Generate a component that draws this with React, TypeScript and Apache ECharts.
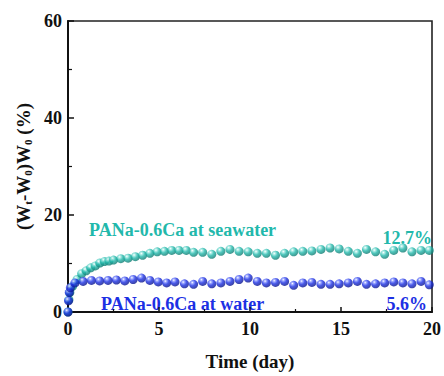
import React, { useEffect, useRef } from "react";
import * as echarts from "echarts";

// Swelling ratio over time for PANa-0.6Ca gel in seawater
const seawaterDays = [
  0, 0.05, 0.1, 0.25, 0.5, 0.75, 1.0, 1.25, 1.5, 1.75, 2.0, 2.25, 2.5,
  2.9, 3.3, 3.7, 4.1, 4.5, 4.9, 5.3, 5.7, 6.1,
  6.5, 6.9, 7.4, 7.9, 8.4, 8.9, 9.4, 9.9, 10.4, 10.9, 11.4, 11.9, 12.4, 12.9,
  13.4, 13.9, 14.4, 14.9, 15.4, 15.9, 16.4, 16.9, 17.4, 17.9, 18.4, 18.9, 19.4, 19.85,
];
const seawaterGain = [
  0, 2.5, 4.0, 5.3, 6.7, 7.9, 8.5, 9.1, 9.5, 10.1, 10.4, 10.5, 10.7,
  11.0, 11.1, 11.4, 11.7, 12.1, 12.4, 12.5, 12.7, 12.7,
  12.7, 12.3, 12.3, 11.9, 12.5, 12.9, 12.5, 12.4, 12.1, 12.1, 11.7, 12.1, 12.4, 12.5,
  12.6, 12.9, 13.2, 13.0, 12.5, 12.1, 12.9, 12.4, 11.9, 12.7, 13.2, 12.4, 12.7, 12.7,
];

// Swelling ratio over time for PANa-0.6Ca gel in water
const waterDays = [
  0, 0.03, 0.07, 0.13, 0.38, 0.83, 1.29, 1.74, 2.2, 2.66, 3.12, 3.58, 4.04, 4.5,
  4.96, 5.42, 5.88, 6.4, 6.9, 7.4, 7.9, 8.4, 8.9, 9.4, 9.9, 10.4, 10.9, 11.4,
  11.9, 12.4, 12.9, 13.4, 13.9, 14.4, 14.9, 15.4, 15.9, 16.4, 16.9, 17.4, 17.9,
  18.4, 18.9, 19.4, 19.85,
];
const waterGain = [
  0, 2.3, 4.0, 5.0, 6.0, 6.3, 6.5, 6.4, 6.5, 6.6, 6.4, 6.7, 7.0, 6.5,
  6.2, 6.0, 6.2, 5.8, 5.7, 6.3, 5.8, 6.0, 6.3, 6.7, 7.0, 6.3, 6.0, 6.1,
  6.3, 5.5, 6.0, 6.1, 5.7, 5.7, 5.8, 6.0, 6.3, 5.7, 5.8, 6.0, 6.2,
  6.0, 5.8, 6.3, 5.6,
];

const seawaterName = "PANa-0.6Ca at seawater";
const waterName = "PANa-0.6Ca at water";

const TEAL = "#22b8ab";
const BLUE = "#1c30e4";
const FONT = "'Liberation Serif', 'Times New Roman', serif";

function sphere(base: string, light: string, dark: string) {
  return new echarts.graphic.RadialGradient(0.36, 0.3, 0.72, [
    { offset: 0, color: "#ffffff" },
    { offset: 0.18, color: light },
    { offset: 0.5, color: base },
    { offset: 1, color: dark },
  ]);
}

function pairs(xs: number[], ys: number[]) {
  return xs.map((x, i) => [x, ys[i]]);
}

export default function App() {
  const ref = useRef<HTMLDivElement>(null);

  useEffect(() => {
    if (!ref.current) return;
    const chart = echarts.init(ref.current, null, { renderer: "svg" });
    const lastSea = seawaterGain[seawaterGain.length - 1];
    const lastWater = waterGain[waterGain.length - 1];

    chart.setOption({
      animation: false,
      backgroundColor: "#ffffff",
      grid: {
        left: 68,
        right: 8,
        top: 21,
        bottom: 58,
        show: true,
        borderColor: "#222",
        borderWidth: 1.6,
        backgroundColor: "transparent",
      },
      xAxis: {
        type: "value",
        min: 0,
        max: 20,
        interval: 5,
        name: "Time (day)",
        nameLocation: "middle",
        nameGap: 40,
        nameTextStyle: { fontFamily: FONT, fontWeight: "bold", fontSize: 19, color: "#111" },
        axisLine: { show: true, lineStyle: { color: "#111", width: 2 } },
        axisTick: { show: true, inside: true, length: 5, lineStyle: { color: "#111", width: 1.5 } },
        minorTick: { show: true, splitNumber: 2, length: 3, lineStyle: { color: "#111", width: 1.2 } },
        splitLine: { show: false },
        axisLabel: { fontFamily: FONT, fontWeight: "bold", fontSize: 18, color: "#111", margin: 8 },
      },
      yAxis: {
        type: "value",
        min: 0,
        max: 60,
        interval: 20,
        name: "(W{s|t}-W{s|0})W{s|0} (%)",
        nameLocation: "middle",
        nameGap: 31,
        nameTextStyle: {
          fontFamily: FONT,
          fontWeight: "bold",
          fontSize: 19,
          color: "#111",
          rich: {
            s: { fontFamily: FONT, fontWeight: "bold", fontSize: 11, color: "#111", padding: [8, 0, 0, 0] },
          },
        },
        axisLine: { show: true, lineStyle: { color: "#111", width: 2 } },
        axisTick: { show: true, inside: true, length: 6, lineStyle: { color: "#111", width: 1.5 } },
        minorTick: { show: true, splitNumber: 2, length: 4, lineStyle: { color: "#111", width: 1.2 } },
        splitLine: { show: false },
        axisLabel: { fontFamily: FONT, fontWeight: "bold", fontSize: 18, color: "#111", margin: 6 },
      },
      series: [
        {
          name: seawaterName,
          type: "scatter",
          symbol: "circle",
          symbolSize: 9,
          data: pairs(seawaterDays, seawaterGain),
          itemStyle: { color: sphere(TEAL, "#9fe8e1", "#0f7a71") },
        },
        {
          name: waterName,
          type: "scatter",
          symbol: "circle",
          symbolSize: 9,
          data: pairs(waterDays, waterGain),
          itemStyle: { color: sphere(BLUE, "#8d9bff", "#0a148a") },
        },
      ],
      graphic: [
        {
          type: "text",
          left: 89,
          top: 221,
          style: { text: seawaterName, fill: TEAL, font: `bold 18px ${FONT}` },
        },
        {
          type: "text",
          right: 12,
          top: 229,
          style: { text: `${lastSea}%`, fill: TEAL, font: `bold 18px ${FONT}` },
        },
        {
          type: "text",
          left: 101,
          top: 295,
          style: { text: waterName, fill: BLUE, font: `bold 18px ${FONT}` },
        },
        {
          type: "text",
          right: 17,
          top: 295,
          style: { text: `${lastWater}%`, fill: BLUE, font: `bold 18px ${FONT}` },
        },
      ],
    });

    return () => chart.dispose();
  }, []);

  return (
    <div
      ref={ref}
      style={{ position: "fixed", left: 0, top: 0, width: 444, height: 376 }}
    />
  );
}
